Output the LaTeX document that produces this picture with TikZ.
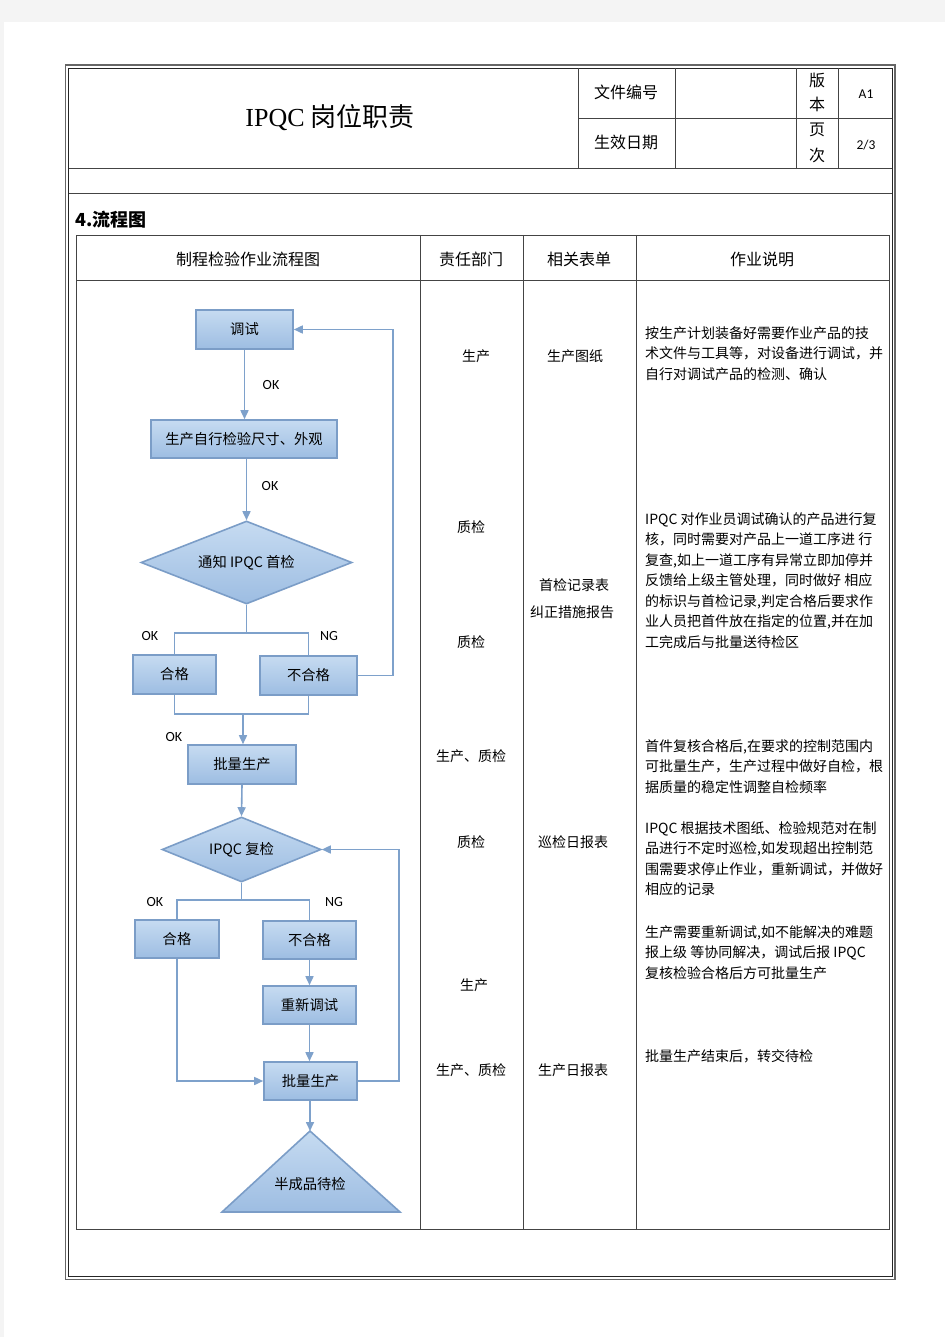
\documentclass[tikz,border=0pt]{standalone}
\usepackage{fontspec}
\setmainfont{Noto Sans CJK SC}
\newfontfamily\lat{Carlito}
\newfontfamily\ser{Liberation Serif}
\usetikzlibrary{shapes.geometric,arrows.meta}
\definecolor{ln}{HTML}{7EA1CB}
\definecolor{ft}{HTML}{C6DBF1}
\definecolor{fb}{HTML}{9DBDE2}
\definecolor{bd}{HTML}{7B9DC7}
\definecolor{pagebg}{HTML}{F4F4F4}
\definecolor{tl}{HTML}{444444}
\begin{document}
\begin{tikzpicture}[x=1pt,y=-1pt,
  box/.style={rectangle,draw=bd,line width=1.6pt,top color=ft,bottom color=fb,inner sep=0pt,font=\fontsize{14.3}{16}\selectfont},
  dia/.style={diamond,draw=bd,line width=1.6pt,top color=ft,bottom color=fb,inner sep=0pt,aspect=2.5,font=\fontsize{14.3}{16}\selectfont},
  conn/.style={draw=ln,line width=1.6pt},
  arr/.style={conn,-{Triangle[length=9pt,width=8pt]}},
  lbl/.style={font=\lat\fontsize{14}{16}\selectfont},
  cell/.style={font=\fontsize{14}{16}\selectfont},
  head/.style={font=\fontsize{16}{18}\selectfont},
  desc/.style={anchor=north west,align=left,inner sep=0pt,font=\fontsize{14}{20.5}\selectfont},
  grid/.style={draw=tl,line width=0.9pt}
]
\useasboundingbox (0,0) rectangle (945,1337);
\fill[pagebg] (0,0) rectangle (945,1337);
\fill[white] (4,22) rectangle (945,1337);

% outer frame
\draw[draw=black!60,line width=1.6pt] (65.5,65) rectangle (895,1279.5);
\draw[draw=black!85,line width=0.8pt] (68.5,68) rectangle (892,1276.5);
% header grid
\draw[grid] (68.5,168) -- (892,168);
\draw[grid] (68.5,193) -- (892,193);
\draw[grid] (578,68) -- (578,168);
\draw[grid] (675,68) -- (675,168);
\draw[grid] (796,68) -- (796,168);
\draw[grid] (838,68) -- (838,168);
\draw[grid] (578,118) -- (892,118);

\node[font=\fontsize{26}{28}\selectfont] (title) at (330,118) {{\ser IPQC} 岗位职责};
\node[head] (wjbh) at (626,92) {文件编号};
\node[head] (sxrq) at (626,142) {生效日期};
\node[head] (ban) at (817,80) {版};
\node[head] (ben) at (817,104) {本};
\node[head] (ye) at (817,130) {页};
\node[head] (ci) at (817,155) {次};
\node[font=\lat\fontsize{13.5}{15}\selectfont] (a1) at (866,94) {A1};
\node[font=\lat\fontsize{13.5}{15}\selectfont] (pg) at (866,145) {2/3};
\node[anchor=west,inner sep=0pt,font=\bfseries\fontsize{18}{20}\selectfont] (sec) at (75,220) {4.流程图};

% table
\draw[grid] (76,235) rectangle (889,1229);
\draw[grid] (76,280) -- (889,280);
\draw[grid] (420,235) -- (420,1229);
\draw[grid] (523,235) -- (523,1229);
\draw[grid] (636,235) -- (636,1229);
\node[head] (h1) at (248,259) {制程检验作业流程图};
\node[head] (h2) at (471,259) {责任部门};
\node[head] (h3) at (579,259) {相关表单};
\node[head] (h4) at (762,259) {作业说明};

% department column
\node[cell] (r1) at (476,356) {生产};
\node[cell] (r2) at (471,527) {质检};
\node[cell] (r3) at (471,642) {质检};
\node[cell] (r4) at (471,756) {生产、质检};
\node[cell] (r5) at (471,842) {质检};
\node[cell] (r6) at (474,985) {生产};
\node[cell] (r7) at (471,1070) {生产、质检};
% forms column
\node[cell] (f1) at (575,356) {生产图纸};
\node[cell] (f2) at (574,585) {首检记录表};
\node[cell] (f3) at (572,612) {纠正措施报告};
\node[cell] (f4) at (573,842) {巡检日报表};
\node[cell] (f5) at (573,1070) {生产日报表};
% description column
\node[desc] (p1) at (645,326) {按生产计划装备好需要作业产品的技\\术文件与工具等，对设备进行调试，并\\自行对调试产品的检测、确认};
\node[desc] (p2) at (645,512) {IPQC 对作业员调试确认的产品进行复\\核，同时需要对产品上一道工序进 行\\复查,如上一道工序有异常立即加停并\\反馈给上级主管处理，同时做好 相应\\的标识与首检记录,判定合格后要求作\\业人员把首件放在指定的位置,并在加\\工完成后与批量送待检区};
\node[desc] (p3) at (645,739) {首件复核合格后,在要求的控制范围内\\可批量生产，生产过程中做好自检，根\\据质量的稳定性调整自检频率};
\node[desc] (p4) at (645,821) {IPQC 根据技术图纸、检验规范对在制\\品进行不定时巡检,如发现超出控制范\\围需要求停止作业，重新调试，并做好\\相应的记录};
\node[desc] (p5) at (645,925) {生产需要重新调试,如不能解决的难题\\报上级 等协同解决，调试后报 IPQC\\复核检验合格后方可批量生产};
\node[desc] (p6) at (645,1049) {批量生产结束后，转交待检};

% flowchart nodes
\node[box,minimum width=97,minimum height=39] (ts) at (244.5,329.5) {调试};
\node[box,minimum width=186,minimum height=38] (zj) at (244,439) {生产自行检验尺寸、外观};
\node[dia,minimum width=211,minimum height=83] (d1) at (246.5,562.5) {通知 IPQC 首检};
\node[box,minimum width=83,minimum height=39] (hg1) at (174.5,674.5) {合格};
\node[box,minimum width=97,minimum height=39] (bhg1) at (308.5,675.5) {不合格};
\node[box,minimum width=108,minimum height=39] (pl1) at (242,764.5) {批量生产};
\node[dia,minimum width=159,minimum height=65] (d2) at (241.5,849.5) {IPQC 复检};
\node[box,minimum width=84,minimum height=38] (hg2) at (177,939) {合格};
\node[box,minimum width=93,minimum height=38] (bhg2) at (309.5,940) {不合格};
\node[box,minimum width=93,minimum height=38] (cx) at (309.5,1005) {重新调试};
\node[box,minimum width=93,minimum height=38] (pl2) at (310.5,1081) {批量生产};
\path[draw=bd,line width=1.6pt,top color=ft,bottom color=fb] (310,1131) -- (400,1212) -- (222,1212) -- cycle;
\coordinate (apex) at (310,1131);
\node[font=\fontsize{14.3}{16}\selectfont] (dj) at (310,1184) {半成品待检};

% junction coordinates
\coordinate (j1) at (246.5,633);
\coordinate (j2) at (243,714);
\coordinate (j3) at (241.5,900);
\coordinate (rx1) at (393,671);
\coordinate (rx2) at (399,1082);

% connectors
\draw[arr] (ts.south) -- (ts.south |- zj.north);
\draw[arr] (zj.south -| d1.north) -- (d1.north);
\draw[conn] (d1.south) -- (j1);
\draw[conn] (hg1.north) |- (j1) -| (bhg1.north);
\draw[conn] (hg1.south) |- (j2) -| (bhg1.south);
\draw[arr] (j2) -- (j2 |- pl1.north);
\draw[arr] (bhg1.east) -- (bhg1.east -| rx1) |- (ts.east);
\draw[arr] (pl1.south) -- (d2.north);
\draw[conn] (d2.south) -- (j3);
\draw[conn] (hg2.north) |- (j3) -| (bhg2.north);
\draw[arr] (bhg2.south) -- (cx.north);
\draw[arr] (cx.south) -- (cx.south |- pl2.north);
\draw[arr] (hg2.south) |- (pl2.west);
\draw[arr] (pl2.east) -- (pl2.east -| rx2) |- (d2.east);
\draw[arr] (pl2.south -| apex) -- (apex);

% labels
\node[lbl] (ok1) at (271,385) {OK};
\node[lbl] (ok2) at (270,486) {OK};
\node[lbl] (ok3) at (150,636) {OK};
\node[lbl] (ng1) at (329,636) {NG};
\node[lbl] (ok4) at (174,737) {OK};
\node[lbl] (ok5) at (155,902) {OK};
\node[lbl] (ng2) at (334,902) {NG};
\end{tikzpicture}
\end{document}
